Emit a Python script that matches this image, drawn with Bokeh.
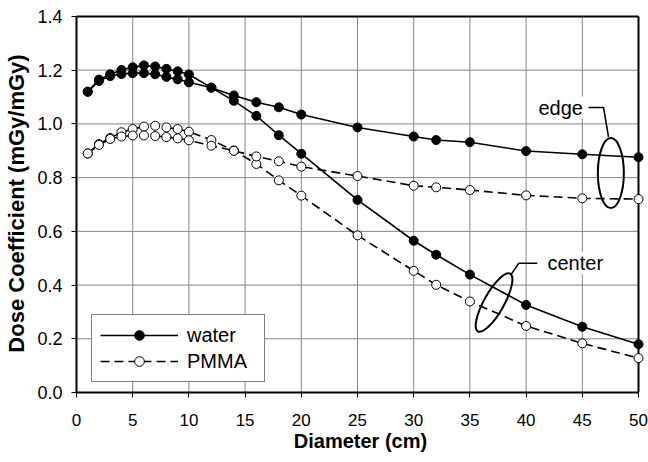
from bokeh.plotting import figure
from bokeh.models import Range1d, FixedTicker, NumeralTickFormatter, Legend, LegendItem, Label
from bokeh.embed import file_html
from bokeh.resources import INLINE

# Phantom diameter (cm) and dose coefficients (mGy/mGy)
diameter_cm = [1, 2, 3, 4, 5, 6, 7, 8, 9, 10, 12, 14, 16, 18, 20, 25, 30, 32, 35, 40, 45, 50]
water_center = [1.12, 1.165, 1.185, 1.201, 1.211, 1.218, 1.214, 1.205, 1.196, 1.184, 1.135, 1.086,
                1.030, 0.958, 0.889, 0.717, 0.565, 0.513, 0.439, 0.326, 0.245, 0.180]
water_edge = [1.12, 1.160, 1.178, 1.186, 1.189, 1.189, 1.185, 1.175, 1.166, 1.155, 1.135, 1.106,
              1.081, 1.062, 1.035, 0.987, 0.953, 0.940, 0.932, 0.899, 0.887, 0.876]
pmma_center = [0.89, 0.925, 0.948, 0.969, 0.981, 0.990, 0.993, 0.987, 0.981, 0.971, 0.940, 0.901,
               0.851, 0.790, 0.733, 0.585, 0.453, 0.401, 0.339, 0.248, 0.183, 0.128]
pmma_edge = [0.89, 0.922, 0.944, 0.953, 0.957, 0.957, 0.955, 0.951, 0.946, 0.939, 0.919, 0.900,
             0.879, 0.861, 0.841, 0.806, 0.770, 0.764, 0.754, 0.734, 0.723, 0.720]

x_ticks = [0, 5, 10, 15, 20, 25, 30, 35, 40, 45, 50]
y_ticks = [0.0, 0.2, 0.4, 0.6, 0.8, 1.0, 1.2, 1.4]

X_MAX = 50
Y_MAX = 1.4
FONT = "Liberation Sans"

# Ranges are padded a few pixels past the box so end markers are not cut
p = figure(width=648, height=462, output_backend="svg", toolbar_location=None,
           x_range=Range1d(0, X_MAX + 6 / 11.24), y_range=Range1d(0, Y_MAX + 2 / 268.6),
           min_border_left=76, min_border_right=4, min_border_top=14, min_border_bottom=70)
p.outline_line_color = None
p.background_fill_color = "white"
p.border_fill_color = "white"
p.xgrid.visible = False
p.ygrid.visible = False

# Grid lines drawn from the tick lists, limited to the data box
grid_y = y_ticks[1:-1]
p.segment(x0=[0] * len(grid_y), x1=[X_MAX] * len(grid_y), y0=grid_y, y1=grid_y,
          line_color="#858585", line_width=1)
grid_x = x_ticks[1:-1]
p.segment(x0=grid_x, x1=grid_x, y0=[0] * len(grid_x), y1=[Y_MAX] * len(grid_x),
          line_color="#858585", line_width=1)
# Top and right edges of the box
p.segment(x0=[0, X_MAX], x1=[X_MAX, X_MAX], y0=[Y_MAX, 0], y1=[Y_MAX, Y_MAX],
          line_color="black", line_width=2)

# Axes
for ax in (p.xaxis[0], p.yaxis[0]):
    ax.axis_line_color = "black"
    ax.axis_line_width = 2
    ax.major_tick_in = 0
    ax.major_tick_out = 5
    ax.major_tick_line_color = "black"
    ax.minor_tick_in = 0
    ax.minor_tick_out = 0
    ax.major_label_text_font = FONT
    ax.major_label_text_color = "black"
    ax.axis_label_text_font = FONT
    ax.axis_label_text_font_style = "bold"
    ax.axis_label_text_color = "black"

p.xaxis.ticker = FixedTicker(ticks=x_ticks)
p.xaxis.bounds = (0, X_MAX)
p.xaxis.axis_label = "Diameter (cm)"
p.xaxis.major_label_text_font_size = "17px"
p.xaxis.axis_label_text_font_size = "20px"
p.xaxis.major_label_standoff = 16
p.xaxis.axis_label_standoff = 1

p.yaxis.ticker = FixedTicker(ticks=y_ticks)
p.yaxis.formatter = NumeralTickFormatter(format="0.0")
p.yaxis.bounds = (0, Y_MAX)
p.yaxis.axis_label = "Dose Coefficient (mGy/mGy)"
p.yaxis.major_label_text_font_size = "18px"
p.yaxis.axis_label_text_font_size = "22px"
p.yaxis.major_label_standoff = 9
p.yaxis.axis_label_standoff = 5

DASH = "9 5"
LW = 1.6
MS = 9

# Water: solid lines, filled markers
wc_line = p.line(diameter_cm, water_center, line_color="black", line_width=LW)
we_line = p.line(diameter_cm, water_edge, line_color="black", line_width=LW)
wc_pts = p.scatter(diameter_cm, water_center, marker="circle", size=MS,
                   fill_color="black", line_color="black")
p.scatter(diameter_cm, water_edge, marker="circle", size=MS,
          fill_color="black", line_color="black")

# PMMA: dashed lines, open markers
pc_line = p.line(diameter_cm, pmma_center, line_color="black", line_width=LW, line_dash=DASH)
pe_line = p.line(diameter_cm, pmma_edge, line_color="black", line_width=LW, line_dash=DASH)
pc_pts = p.scatter(diameter_cm, pmma_center, marker="circle", size=MS,
                   fill_color="white", line_color="black", line_width=1)
p.scatter(diameter_cm, pmma_edge, marker="circle", size=MS,
          fill_color="white", line_color="black", line_width=1)

# Callouts: ellipses grouping the edge and center curves, with leader lines
p.ellipse(x=[47.54], y=[0.817], width=26, height=70, angle=0,
          width_units="screen", height_units="screen",
          fill_color=None, line_color="black", line_width=2)
p.ellipse(x=[37.15], y=[0.335], width=66, height=20, angle=1.06,
          width_units="screen", height_units="screen",
          fill_color=None, line_color="black", line_width=2)
p.line([45.55, 46.89, 47.33], [1.061, 1.061, 0.952], line_color="black", line_width=1.6)
p.line([40.99, 39.35, 38.61], [0.481, 0.481, 0.436], line_color="black", line_width=1.6)

p.add_layout(Label(x=41.1, y=1.061, text="edge", text_align="left", text_baseline="middle",
                   text_font=FONT, text_font_size="20px", text_color="black",
                   background_fill_color="white"))
p.add_layout(Label(x=41.9, y=0.481, text="center", text_align="left", text_baseline="middle",
                   text_font=FONT, text_font_size="20px", text_color="black",
                   background_fill_color="white"))

legend = Legend(items=[LegendItem(label="water", renderers=[wc_line, wc_pts]),
                       LegendItem(label="PMMA", renderers=[pc_line, pc_pts])],
                location=(15, 10), glyph_width=78, glyph_height=24, label_height=24,
                label_width=69, label_standoff=9, padding=8, spacing=2, margin=0,
                label_text_font=FONT, label_text_font_size="20px", label_text_color="black",
                border_line_color="black", border_line_width=1.5,
                background_fill_color="white", background_fill_alpha=1.0)
p.add_layout(legend)

open("out.html", "w").write(file_html(p, INLINE))
